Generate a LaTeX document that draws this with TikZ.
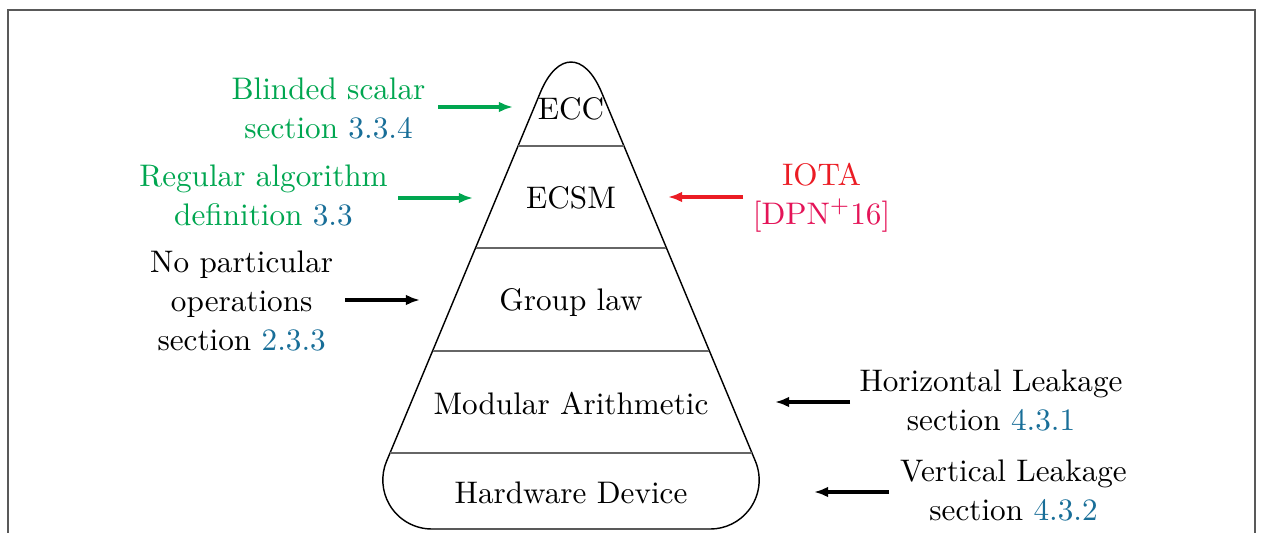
\documentclass[tikz,border=0pt]{standalone}
\usetikzlibrary{arrows.meta}
\definecolor{lblgreen}{RGB}{0,166,80}
\definecolor{refblue}{RGB}{24,110,152}
\definecolor{iotared}{RGB}{235,28,36}
\definecolor{citered}{RGB}{228,20,88}
\begin{document}
\begin{tikzpicture}[x=0.3511pt, y=-0.3511pt,
  lbl/.style={font=\fontsize{10.95}{13.6}\selectfont, inner sep=0pt, align=center, anchor=base},
  pointer/.style={line width=1.1pt, -{Latex[length=5pt,width=3.8pt]}},
  sep/.style={draw=black!60, line width=0.4pt},
  frameline/.style={draw=black!65, line width=0.4pt},
]
\useasboundingbox (0,0) rectangle (1261,533);
% open frame around the figure
\draw[frameline] (8,533) -- (8,10) -- (1255,10) -- (1255,533);

% pyramid outline with rounded apex and rounded base
\draw[line width=0.5pt] (386.6,461.2) -- (540.4,92.4)
  .. controls (557.3,51.9) and (584.7,51.9) .. (601.6,92.4)
  -- (755.4,461.2) arc[start angle=-22.6, end angle=90, radius=49]
  -- (431.8,529) arc[start angle=90, end angle=202.6, radius=49] -- cycle;

% layer separators
\draw[sep] (518,146) -- (624,146);
\draw[sep] (476,248) -- (666,248);
\draw[sep] (433,351) -- (709,351);
\draw[sep] (390,453) -- (752,453);

% layer names
\node[lbl] (ecc)  at (571,119) {ECC};
\node[lbl] (ecsm) at (571,208) {ECSM};
\node[lbl] (grp)  at (571,310) {Group law};
\node[lbl] (mod)  at (571,414) {Modular Arithmetic};
\node[lbl] (hw)   at (571,503) {Hardware Device};

% countermeasures on the left (anchored at the last line's baseline)
\node[lbl, text=lblgreen] (blind) at (328.5,138) {Blinded scalar\\section \textcolor{refblue}{3.3.4}};
\node[lbl, text=lblgreen] (regalg) at (263.5,225) {Regular algorithm\\definition \textcolor{refblue}{3.3}};
\node[lbl] (noop) at (241.7,350) {No particular\\operations\\section \textcolor{refblue}{2.3.3}};

% attacks on the right
\node[lbl, text=iotared] (iota) at (821.6,224) {IOTA\\\textcolor{citered}{[DPN\textsuperscript{+}16]}};
\node[lbl] (hleak) at (991,430) {Horizontal Leakage\\section \textcolor{refblue}{4.3.1}};
\node[lbl] (vleak) at (1013.5,520) {Vertical Leakage\\section \textcolor{refblue}{4.3.2}};

% arrow end points
\coordinate (blindA) at (438,107);   \coordinate (blindB) at (513,107);
\coordinate (regA)   at (398,198);   \coordinate (regB)   at (473,198);
\coordinate (noopA)  at (345,300);   \coordinate (noopB)  at (420,300);
\coordinate (iotaA)  at (743,197);   \coordinate (iotaB)  at (668,197);
\coordinate (hleakA) at (850,402);   \coordinate (hleakB) at (775,402);
\coordinate (vleakA) at (889,492);   \coordinate (vleakB) at (814,492);

\draw[pointer, lblgreen] (blindA) -- (blindB);
\draw[pointer, lblgreen] (regA) -- (regB);
\draw[pointer] (noopA) -- (noopB);
\draw[pointer, iotared] (iotaA) -- (iotaB);
\draw[pointer] (hleakA) -- (hleakB);
\draw[pointer] (vleakA) -- (vleakB);
\end{tikzpicture}
\end{document}
